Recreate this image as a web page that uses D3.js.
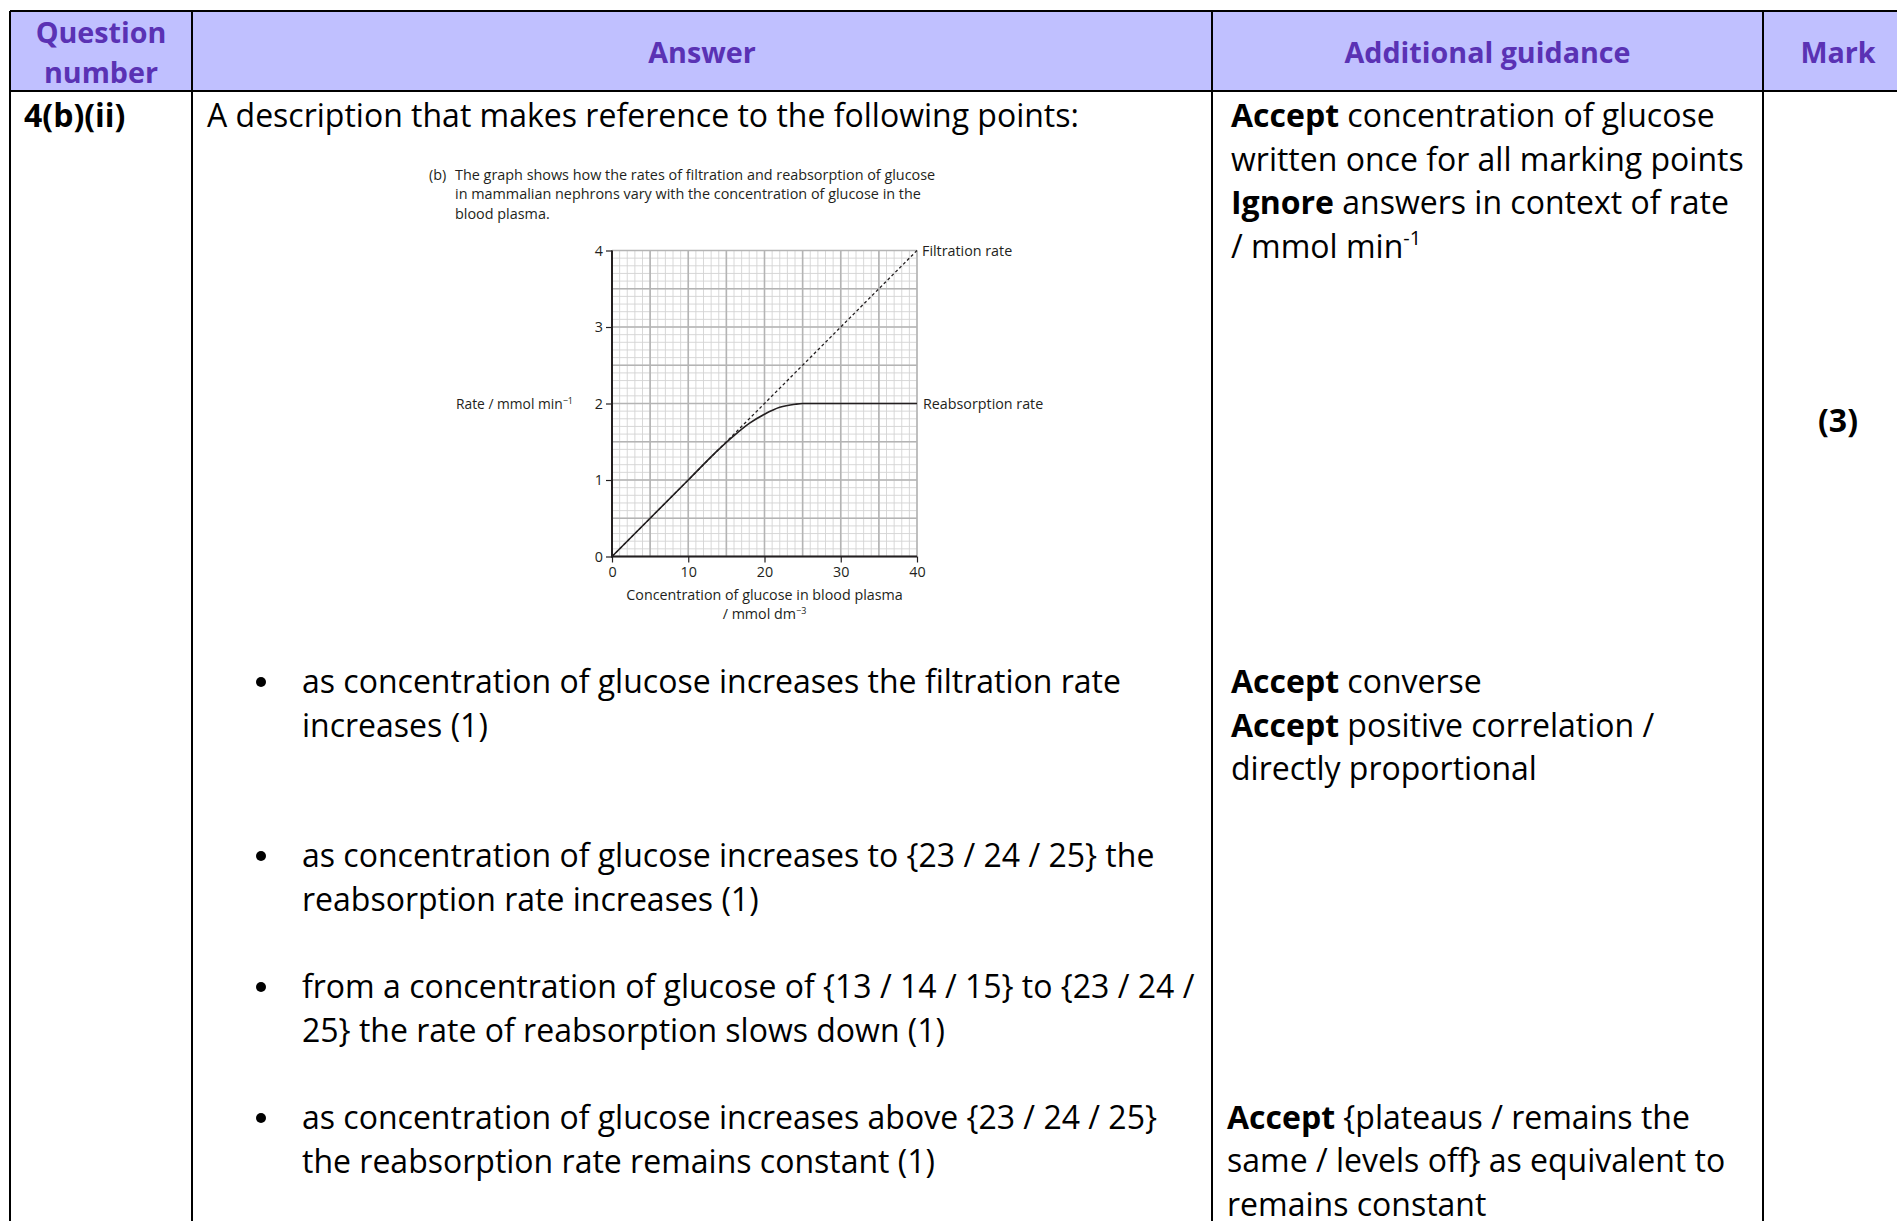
<!DOCTYPE html>
<html>
<head>
<meta charset="utf-8">
<script src="https://cdn.jsdelivr.net/npm/d3@7"></script>
<style>
  html, body { margin: 0; padding: 0; background: #fff; }
  svg { display: block; }
  text { font-family: "Open Sans", sans-serif; }
</style>
</head>
<body>
<svg id="page" width="1897" height="1221"></svg>
<script>
// ---- chart values ----
const concentration = [0, 10, 14, 16, 18, 20, 22, 24, 25, 40];
const reabsorptionRate = [0, 1, 1.4, 1.58, 1.74, 1.86, 1.95, 1.99, 2, 2];
const filtrationConcentration = [0, 40];
const filtrationRate = [0, 4];
const xTickValues = [0, 10, 20, 30, 40];
const yTickValues = [0, 1, 2, 3, 4];
const seriesLabels = ["Filtration rate", "Reabsorption rate"];

// ---- table text ----
const headerLabels = ["Question number", "Answer", "Additional guidance", "Mark"];
const questionId = "4(b)(ii)";
const markValue = "(3)";
const captionLines = [
  "The graph shows how the rates of filtration and reabsorption of glucose",
  "in mammalian nephrons vary with the concentration of glucose in the",
  "blood plasma."
];
const bulletPoints = [
  ["as concentration of glucose increases the filtration rate", "increases (1)"],
  ["as concentration of glucose increases to {23 / 24 / 25} the", "reabsorption rate increases (1)"],
  ["from a concentration of glucose of {13 / 14 / 15} to {23 / 24 /", "25} the rate of reabsorption slows down (1)"],
  ["as concentration of glucose increases above {23 / 24 / 25}", "the reabsorption rate remains constant (1)"]
];

const svg = d3.select("#page");
const W = 1897, H = 1221;
const colX = [10, 192, 1212, 1763];
const tableTop = 11, headerBottom = 91;
const headColor = "#5a32b4";

// ---- table frame ----
svg.append("rect").attr("x", colX[0]).attr("y", tableTop)
  .attr("width", W - colX[0] + 20).attr("height", headerBottom - tableTop)
  .attr("fill", "#c0c0ff");

const frame = svg.append("g").attr("stroke", "#000").attr("stroke-width", 2);
[tableTop, headerBottom].forEach(y =>
  frame.append("line").attr("x1", colX[0]).attr("x2", W + 10).attr("y1", y).attr("y2", y));
colX.forEach(x =>
  frame.append("line").attr("x1", x).attr("x2", x).attr("y1", tableTop).attr("y2", H + 10));

// header labels
const head = svg.append("g").attr("fill", headColor).attr("font-weight", 700)
  .attr("font-size", 28.7).attr("text-anchor", "middle");
head.append("text").attr("x", 101).attr("y", 43).text("Question");
head.append("text").attr("x", 101).attr("y", 83).text("number");
head.append("text").attr("x", 702).attr("y", 63).text(headerLabels[1]);
head.append("text").attr("x", 1487.5).attr("y", 63).text(headerLabels[2]);
head.append("text").attr("x", 1838).attr("y", 63).text(headerLabels[3]);

// body text
const body = svg.append("g").attr("font-size", 32).attr("fill", "#000");
body.append("text").attr("x", 24).attr("y", 127).attr("font-weight", 700).text(questionId);
body.append("text").attr("x", 1838).attr("y", 432).attr("font-weight", 700)
  .attr("text-anchor", "middle").text(markValue);
body.append("text").attr("x", 207).attr("y", 127)
  .text("A description that makes reference to the following points:");

function richLine(x, y, parts) {
  const t = body.append("text").attr("x", x).attr("y", y);
  parts.forEach(p => {
    const s = t.append("tspan").text(p.t);
    if (p.b) s.attr("font-weight", 700);
    if (p.sup) s.attr("font-size", 20).attr("dy", -13);
  });
  return t;
}

// guidance column
const gx = 1231;
richLine(gx, 127, [{t: "Accept", b: true}, {t: " concentration of glucose"}]);
richLine(gx, 171, [{t: "written once for all marking points"}]);
richLine(gx, 214, [{t: "Ignore", b: true}, {t: " answers in context of rate"}]);
richLine(gx, 258, [{t: "/ mmol min"}, {t: "-1", sup: true}]);
richLine(gx, 693, [{t: "Accept", b: true}, {t: " converse"}]);
richLine(gx, 737, [{t: "Accept", b: true}, {t: " positive correlation /"}]);
richLine(gx, 780, [{t: "directly proportional"}]);
richLine(1227, 1129, [{t: "Accept", b: true}, {t: " {plateaus / remains the"}]);
richLine(1227, 1172, [{t: "same / levels off} as equivalent to"}]);
richLine(1227, 1216, [{t: "remains constant"}]);

// bullet points
const bulletTop = [693, 867, 998, 1129];
bulletPoints.forEach((lines, i) => {
  body.append("circle").attr("cx", 261).attr("cy", bulletTop[i] - 11).attr("r", 5).attr("fill", "#000");
  lines.forEach((ln, j) => richLine(302, bulletTop[i] + j * 43.6, [{t: ln}]));
});

// ---- embedded graph ----
const g = svg.append("g").attr("fill", "#231f20");
const x = d3.scaleLinear().domain([0, 40]).range([612, 917]);
const y = d3.scaleLinear().domain([0, 4]).range([556.5, 250.5]);

// caption
const cap = g.append("g").attr("font-size", 14.4);
cap.append("text").attr("x", 429).attr("y", 180).text("(b)");
captionLines.forEach((ln, i) => cap.append("text").attr("x", 455).attr("y", 180 + i * 19.4).text(ln));

// graph-paper grid: fine lines, then coarse lines
const grid = g.append("g").attr("fill", "none");
const fineX = d3.range(0, 41, 1), fineY = d3.range(0, 41, 1).map(v => v / 10);
const coarseX = d3.range(0, 41, 5), coarseY = d3.range(0, 9, 1).map(v => v / 2);
grid.selectAll(".fx").data(fineX).join("line").attr("class", "fx")
  .attr("x1", d => x(d)).attr("x2", d => x(d)).attr("y1", y(0)).attr("y2", y(4))
  .attr("stroke", "#d4d4d4").attr("stroke-width", 0.9);
grid.selectAll(".fy").data(fineY).join("line").attr("class", "fy")
  .attr("y1", d => y(d)).attr("y2", d => y(d)).attr("x1", x(0)).attr("x2", x(40))
  .attr("stroke", "#d4d4d4").attr("stroke-width", 0.9);
grid.selectAll(".cx").data(coarseX).join("line").attr("class", "cx")
  .attr("x1", d => x(d)).attr("x2", d => x(d)).attr("y1", y(0)).attr("y2", y(4))
  .attr("stroke", "#b4b4b4").attr("stroke-width", 1.6);
grid.selectAll(".cy").data(coarseY).join("line").attr("class", "cy")
  .attr("y1", d => y(d)).attr("y2", d => y(d)).attr("x1", x(0)).attr("x2", x(40))
  .attr("stroke", "#b4b4b4").attr("stroke-width", 1.6);

// axes
const axisFont = 14.3;
const yAxis = g.append("g").attr("transform", `translate(${x(0)},0)`)
  .call(d3.axisLeft(y).tickValues(yTickValues).tickSize(6).tickPadding(3).tickFormat(d3.format("d")));
const xAxis = g.append("g").attr("transform", `translate(0,${y(0)})`)
  .call(d3.axisBottom(x).tickValues(xTickValues).tickSize(6).tickPadding(4).tickFormat(d3.format("d")));
[yAxis, xAxis].forEach(a => {
  a.select(".domain").remove();
  a.selectAll(".tick line").attr("stroke", "#231f20").attr("stroke-width", 1.2);
  a.selectAll(".tick text").attr("font-family", "Open Sans, sans-serif")
    .attr("font-size", axisFont).attr("fill", "#231f20");
});
g.append("line").attr("x1", x(0)).attr("x2", x(0)).attr("y1", y(0) + 1).attr("y2", y(4))
  .attr("stroke", "#231f20").attr("stroke-width", 2);
g.append("line").attr("x1", x(0) - 1).attr("x2", x(40)).attr("y1", y(0)).attr("y2", y(0))
  .attr("stroke", "#231f20").attr("stroke-width", 2.2);

// series
const line = d3.line().x(d => x(d[0])).y(d => y(d[1]));
g.append("path").datum(d3.zip(filtrationConcentration, filtrationRate))
  .attr("d", line).attr("fill", "none").attr("stroke", "#231f20")
  .attr("stroke-width", 1.3).attr("stroke-dasharray", "3,2.5");
g.append("path").datum(d3.zip(concentration, reabsorptionRate))
  .attr("d", line.curve(d3.curveMonotoneX)).attr("fill", "none")
  .attr("stroke", "#231f20").attr("stroke-width", 1.6);

// series labels
g.append("text").attr("x", x(40) + 5).attr("y", y(4) + 5).attr("font-size", axisFont).text(seriesLabels[0]);
g.append("text").attr("x", x(40) + 6).attr("y", y(2) + 5).attr("font-size", axisFont).text(seriesLabels[1]);

// axis titles
const yt = g.append("text").attr("x", 573).attr("y", y(2) + 5).attr("font-size", 13.8)
  .attr("text-anchor", "end");
yt.append("tspan").text("Rate / mmol min");
yt.append("tspan").text("−1").attr("font-size", 9).attr("dy", -5);

g.append("text").attr("x", x(20)).attr("y", 600).attr("font-size", axisFont)
  .attr("text-anchor", "middle").text("Concentration of glucose in blood plasma");
const xt2 = g.append("text").attr("x", x(20)).attr("y", 619).attr("font-size", axisFont)
  .attr("text-anchor", "middle");
xt2.append("tspan").text("/ mmol dm");
xt2.append("tspan").text("−3").attr("font-size", 9).attr("dy", -5);
</script>
</body>
</html>
